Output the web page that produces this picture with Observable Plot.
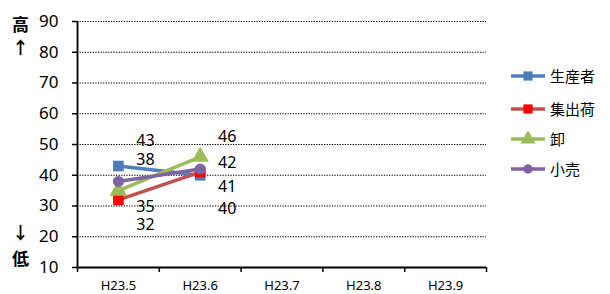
<!DOCTYPE html>
<html>
<head>
<meta charset="utf-8">
<script src="https://cdn.jsdelivr.net/npm/d3@7"></script>
<script src="https://cdn.jsdelivr.net/npm/@observablehq/plot@0.6"></script>
<style>
  body { margin: 0; background: #fff; }
  #wrap { position: relative; width: 610px; height: 294px; font-family: "Noto Sans", "Noto Sans CJK JP", sans-serif; }
  .side { position: absolute; left: 12px; font: bold 17px "Noto Sans CJK JP", sans-serif; line-height: 1; }
  #legend { position: absolute; left: 510px; top: 0; }
  .row { position: absolute; left: 0; display: flex; align-items: center; white-space: nowrap; font: 15px "Noto Sans CJK JP", sans-serif; color: #000; }
  .row svg { margin-right: 4px; }
</style>
</head>
<body>
<div id="wrap"></div>
<script>
const categories = ["H23.5", "H23.6", "H23.7", "H23.8", "H23.9"];
const seriesNames = ["生産者", "集出荷", "卸", "小売"];
const producer = [43, 40];
const shipping = [32, 41];
const wholesale = [35, 46];
const retail = [38, 42];
const yTicks = [10, 20, 30, 40, 50, 60, 70, 80, 90];

// styles / layout (not data)
const styles = [
  {line: "#4F81BD", fill: "#4A7EBB", symbol: "square", r: 6},
  {line: "#C0504D", fill: "#FF0000", symbol: "square", r: 6},
  {line: "#9BBB59", fill: "#9BBB59", symbol: "triangle", r: 6.5},
  {line: "#8064A2", fill: "#8064A2", symbol: "circle", r: 5.5}
];
const labelDy = [[-25, 34], [25, 15], [16, -20], [-22, -6]];

const seriesValues = [producer, shipping, wholesale, retail];
const rows = [];
seriesValues.forEach((vals, s) => vals.forEach((v, i) => rows.push({s, name: seriesNames[s], x: i + 0.5, v, dy: labelDy[s][i]})));

const marks = [
  Plot.ruleY(yTicks.filter(t => t > 10), {y: d => d, stroke: "#000", strokeWidth: 1, strokeDasharray: "1.3,1.3"}),
  Plot.axisY({ticks: yTicks, tickSize: 5, tickPadding: 14, fontSize: 17, label: null, stroke: "#000", strokeWidth: 1.5}),
  Plot.ruleX([0], {stroke: "#000", strokeWidth: 1.8}),
  Plot.ruleY([10], {stroke: "#000", strokeWidth: 1.8}),
  Plot.axisX({ticks: d3.range(0, categories.length + 1), tickSize: 5, tickFormat: () => "", label: null, strokeWidth: 1.5}),
  Plot.axisX({ticks: categories.map((c, i) => i + 0.5), tickSize: 0, tickPadding: 13, tickFormat: d => categories[Math.round(d - 0.5)], fontSize: 13, label: null})
];
seriesValues.forEach((vals, s) => {
  const data = rows.filter(r => r.s === s);
  const st = styles[s];
  marks.push(Plot.line(data, {x: "x", y: "v", stroke: st.line, strokeWidth: 3.5}));
  marks.push(Plot.dot(data, {x: "x", y: "v", symbol: () => st.symbol, fill: st.fill, r: st.r, stroke: "none"}));
});
for (const r of rows) {
  marks.push(Plot.text([r], {x: "x", y: "v", text: d => String(d.v), dx: 27, dy: r.dy, fontSize: 16, fill: "#000", textAnchor: "middle"}));
}

const chart = Plot.plot({
  width: 610,
  height: 294,
  marginLeft: 77,
  marginRight: 124,
  marginTop: 21,
  marginBottom: 27,
  x: {type: "linear", domain: [0, categories.length], axis: null},
  y: {domain: [10, 90], axis: null},
  style: {fontFamily: "'Noto Sans', 'Liberation Sans', sans-serif", color: "#000", background: "#fff", overflow: "visible"},
  marks
});
const wrap = document.getElementById("wrap");
wrap.appendChild(chart);

// side labels
[["高", 15], ["↑", 38], ["↓", 223], ["低", 249]].forEach(([t, top]) => {
  const d = document.createElement("div");
  d.className = "side"; d.textContent = t; d.style.top = top + "px";
  wrap.appendChild(d);
});

// legend
const legend = document.createElement("div");
legend.id = "legend";
const legendTops = [65, 98, 128, 158];
seriesNames.forEach((name, s) => {
  const st = styles[s];
  const row = document.createElement("div");
  row.className = "row";
  row.style.top = legendTops[s] + "px";
  const sym = d3.symbol(st.symbol === "square" ? d3.symbolSquare : st.symbol === "triangle" ? d3.symbolTriangle : d3.symbolCircle, st.r * st.r * Math.PI * 0.75)();
  row.innerHTML = `<svg width="36" height="16"><line x1="1" x2="35" y1="8" y2="8" stroke="${st.line}" stroke-width="3.5"/><path d="${sym}" transform="translate(18,8)" fill="${st.fill}"/></svg><span>${name}</span>`;
  legend.appendChild(row);
});
wrap.appendChild(legend);
</script>
</body>
</html>
